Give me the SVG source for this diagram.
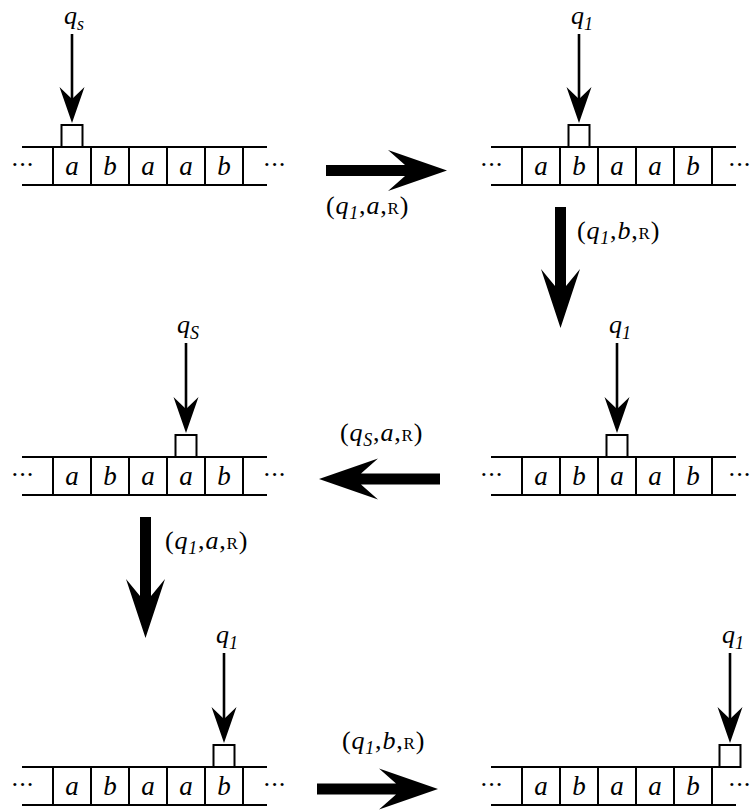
<svg xmlns="http://www.w3.org/2000/svg" width="752" height="810" viewBox="0 0 752 810">
<style>
  .ln{stroke:#000;stroke-width:2;fill:none}
  .box{stroke:#000;stroke-width:2;fill:#fff}
  .shaft{stroke:#000;stroke-width:2.6;fill:none}
  .hd{fill:#000}
  .big{fill:#000}
  text{font-family:"Liberation Serif","Times New Roman",serif;fill:#000}
  .sym{font-size:27px;font-style:italic;text-anchor:middle}
  .dots{font-size:26px;text-anchor:middle;letter-spacing:-1px}
  .st{font-size:26px;font-style:italic}
  .sub{font-size:18px;font-style:italic}
  .lbl{font-size:26px;letter-spacing:0.8px}
  .it{font-style:italic}
  .sc{font-size:17px}
</style>

<g id="connectors">
  <g id="t1"><path class="big" d="M326,165 H405 L388,150 L447,170.5 L388,191 L405,176 H326 Z"/>
    <text class="lbl" x="326" y="214">(<tspan class="it">q</tspan><tspan class="sub" dy="5">1</tspan><tspan dy="-5">,</tspan><tspan class="it">a</tspan>,<tspan class="sc">R</tspan>)</text></g>
  <g id="t2"><path class="big" d="M555,207 V286 L541,269 L560.5,328 L580,269 L566,286 V207 Z"/>
    <text class="lbl" x="577" y="239">(<tspan class="it">q</tspan><tspan class="sub" dy="5">1</tspan><tspan dy="-5">,</tspan><tspan class="it">b</tspan>,<tspan class="sc">R</tspan>)</text></g>
  <g id="t3"><path class="big" d="M440,473.5 H361 L378,458.5 L319,479 L378,499.5 L361,484.5 H440 Z"/>
    <text class="lbl" x="340" y="441">(<tspan class="it">q</tspan><tspan class="sub" dy="5">S</tspan><tspan dy="-5">,</tspan><tspan class="it">a</tspan>,<tspan class="sc">R</tspan>)</text></g>
  <g id="t4"><path class="big" d="M140,517 V596 L126,579 L145.5,638 L165,579 L151,596 V517 Z"/>
    <text class="lbl" x="165" y="549">(<tspan class="it">q</tspan><tspan class="sub" dy="5">1</tspan><tspan dy="-5">,</tspan><tspan class="it">a</tspan>,<tspan class="sc">R</tspan>)</text></g>
  <g id="t5"><path class="big" d="M317,783.5 H396 L379,768.5 L438,789 L379,809.5 L396,794.5 H317 Z"/>
    <text class="lbl" x="342" y="749">(<tspan class="it">q</tspan><tspan class="sub" dy="5">1</tspan><tspan dy="-5">,</tspan><tspan class="it">b</tspan>,<tspan class="sc">R</tspan>)</text></g>
</g>

<!-- Config 1: row 1 left, head on cell 1 -->
<g id="config1">
  <path class="ln" d="M22,147 H267 M22,185 H267 M53,147 V185 M91,147 V185 M129,147 V185 M167,147 V185 M205,147 V185 M243,147 V185"/>
  <text class="dots" x="22" y="173">···</text><text class="dots" x="274" y="173">···</text>
  <text class="sym" x="72" y="175">a</text><text class="sym" x="110" y="175">b</text><text class="sym" x="148" y="175">a</text><text class="sym" x="186" y="175">a</text><text class="sym" x="224" y="175">b</text>
  <text class="st" x="64" y="24">q<tspan class="sub" dy="6">s</tspan></text>
  <line class="shaft" x1="72" y1="34" x2="72" y2="100"/>
  <path class="hd" d="M72,123 L59.5,87 L72,99 L84.5,87 Z"/>
  <rect class="box" x="61.5" y="125" width="21" height="22"/>
</g>

<!-- Config 2: row 1 right, head on cell 2 -->
<g id="config2">
  <path class="ln" d="M491,147 H736 M491,185 H736 M522,147 V185 M560,147 V185 M598,147 V185 M636,147 V185 M674,147 V185 M712,147 V185"/>
  <text class="dots" x="491" y="173">···</text><text class="dots" x="739" y="173">···</text>
  <text class="sym" x="541" y="175">a</text><text class="sym" x="579" y="175">b</text><text class="sym" x="617" y="175">a</text><text class="sym" x="655" y="175">a</text><text class="sym" x="693" y="175">b</text>
  <text class="st" x="571" y="24">q<tspan class="sub" dy="6">1</tspan></text>
  <line class="shaft" x1="579" y1="34" x2="579" y2="100"/>
  <path class="hd" d="M579,123 L566.5,87 L579,99 L591.5,87 Z"/>
  <rect class="box" x="568.5" y="125" width="21" height="22"/>
</g>

<!-- Config 3: row 2 right, head on cell 3 -->
<g id="config3">
  <path class="ln" d="M491,457 H736 M491,495 H736 M522,457 V495 M560,457 V495 M598,457 V495 M636,457 V495 M674,457 V495 M712,457 V495"/>
  <text class="dots" x="491" y="483">···</text><text class="dots" x="739" y="483">···</text>
  <text class="sym" x="541" y="485">a</text><text class="sym" x="579" y="485">b</text><text class="sym" x="617" y="485">a</text><text class="sym" x="655" y="485">a</text><text class="sym" x="693" y="485">b</text>
  <text class="st" x="609" y="333">q<tspan class="sub" dy="6">1</tspan></text>
  <line class="shaft" x1="617" y1="343" x2="617" y2="410"/>
  <path class="hd" d="M617,433 L604.5,397 L617,409 L629.5,397 Z"/>
  <rect class="box" x="606.5" y="435" width="21" height="22"/>
</g>

<!-- Config 4: row 2 left, head on cell 4 -->
<g id="config4">
  <path class="ln" d="M22,457 H267 M22,495 H267 M53,457 V495 M91,457 V495 M129,457 V495 M167,457 V495 M205,457 V495 M243,457 V495"/>
  <text class="dots" x="22" y="483">···</text><text class="dots" x="274" y="483">···</text>
  <text class="sym" x="72" y="485">a</text><text class="sym" x="110" y="485">b</text><text class="sym" x="148" y="485">a</text><text class="sym" x="186" y="485">a</text><text class="sym" x="224" y="485">b</text>
  <text class="st" x="177" y="333">q<tspan class="sub" dy="6">S</tspan></text>
  <line class="shaft" x1="186" y1="343" x2="186" y2="410"/>
  <path class="hd" d="M186,433 L173.5,397 L186,409 L198.5,397 Z"/>
  <rect class="box" x="175.5" y="435" width="21" height="22"/>
</g>

<!-- Config 5: row 3 left, head on cell 5 -->
<g id="config5">
  <path class="ln" d="M22,767 H267 M22,805 H267 M53,767 V805 M91,767 V805 M129,767 V805 M167,767 V805 M205,767 V805 M243,767 V805"/>
  <text class="dots" x="22" y="793">···</text><text class="dots" x="274" y="793">···</text>
  <text class="sym" x="72" y="795">a</text><text class="sym" x="110" y="795">b</text><text class="sym" x="148" y="795">a</text><text class="sym" x="186" y="795">a</text><text class="sym" x="224" y="795">b</text>
  <text class="st" x="216" y="643">q<tspan class="sub" dy="6">1</tspan></text>
  <line class="shaft" x1="224" y1="653" x2="224" y2="720"/>
  <path class="hd" d="M224,743 L211.5,707 L224,719 L236.5,707 Z"/>
  <rect class="box" x="213.5" y="745" width="21" height="22"/>
</g>

<!-- Config 6: row 3 right, head on cell 6 -->
<g id="config6">
  <path class="ln" d="M491,767 H736 M491,805 H736 M522,767 V805 M560,767 V805 M598,767 V805 M636,767 V805 M674,767 V805 M712,767 V805"/>
  <text class="dots" x="491" y="793">···</text><text class="dots" x="739" y="793">···</text>
  <text class="sym" x="541" y="795">a</text><text class="sym" x="579" y="795">b</text><text class="sym" x="617" y="795">a</text><text class="sym" x="655" y="795">a</text><text class="sym" x="693" y="795">b</text>
  <text class="st" x="722" y="643">q<tspan class="sub" dy="6">1</tspan></text>
  <line class="shaft" x1="730" y1="653" x2="730" y2="720"/>
  <path class="hd" d="M730,743 L717.5,707 L730,719 L742.5,707 Z"/>
  <rect class="box" x="719.5" y="745" width="21" height="22"/>
</g>
</svg>
